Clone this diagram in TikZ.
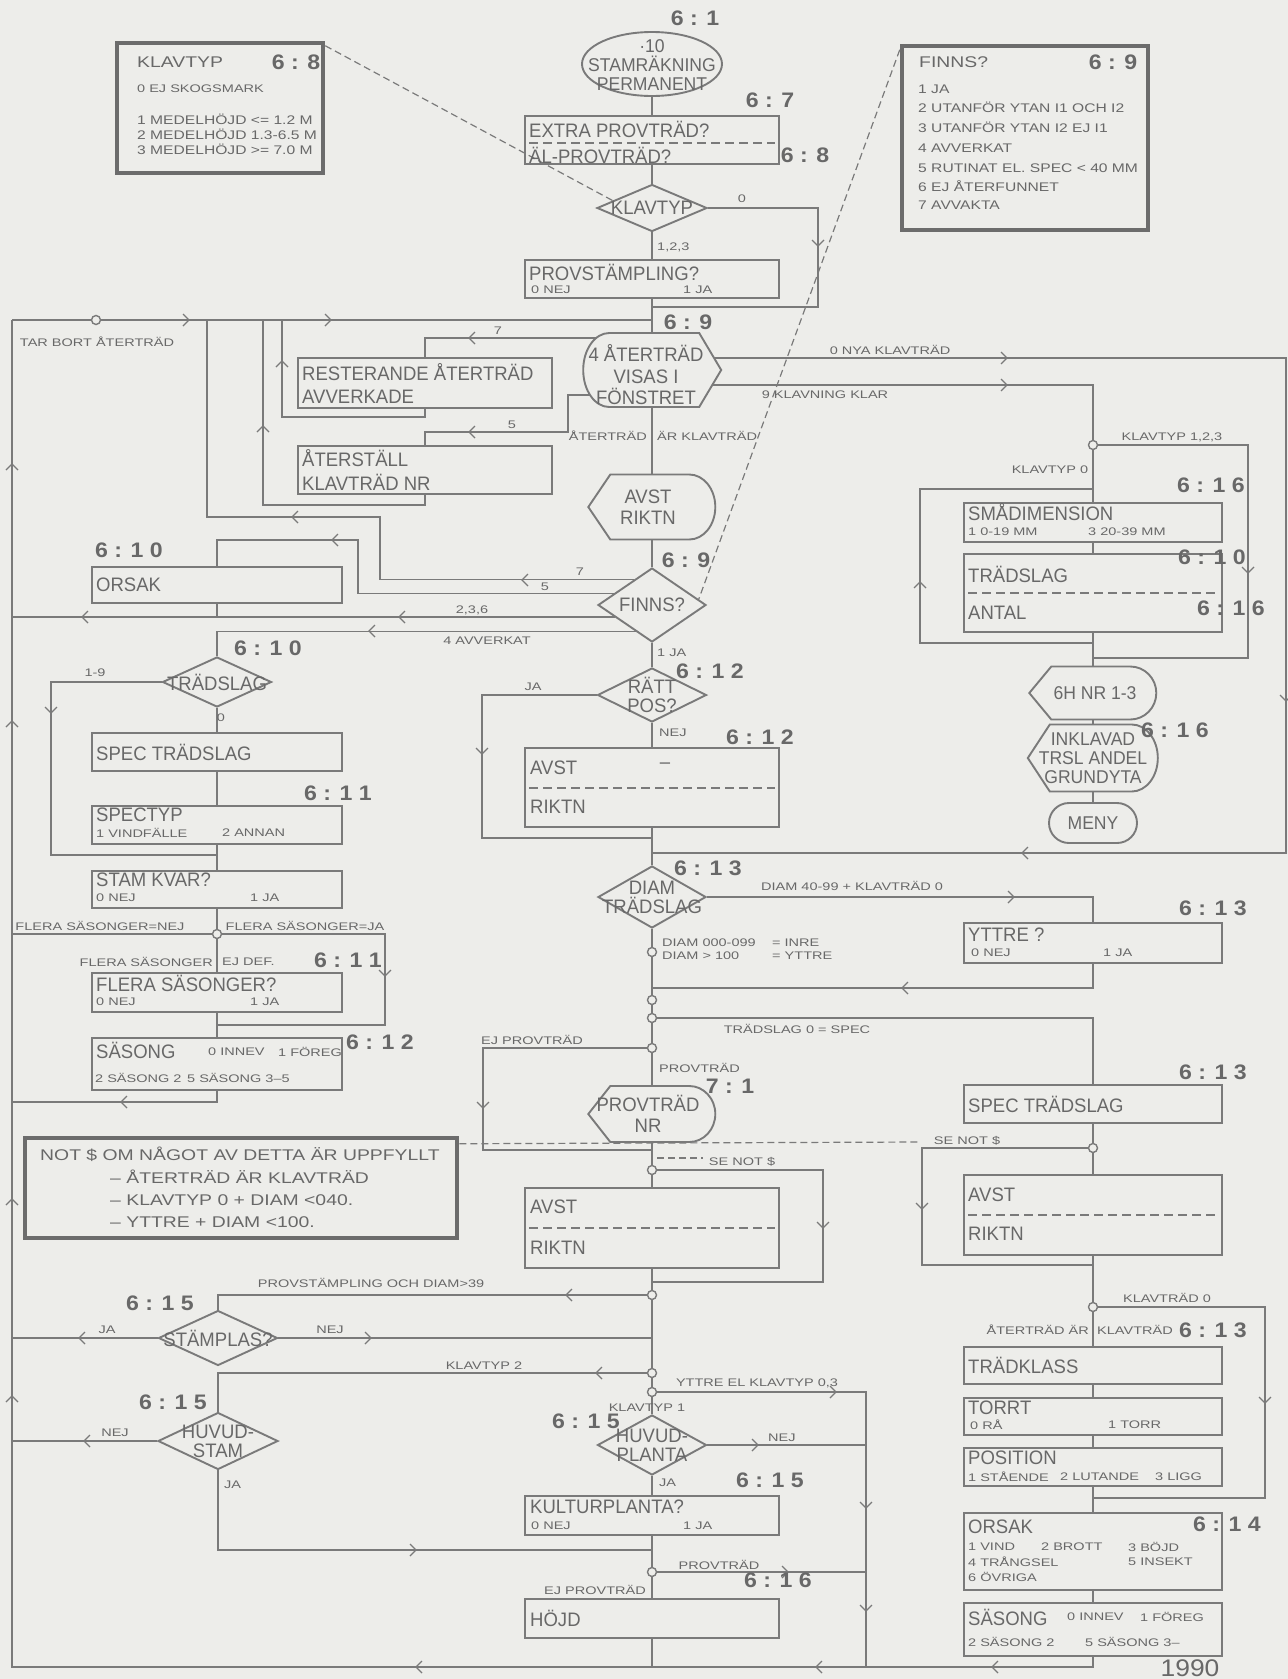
\documentclass[tikz,border=0pt]{standalone}
\usepackage{fontspec}
\setmainfont{Liberation Sans}
\newfontfamily\fLg{Liberation Sans}[FakeStretch=0.95]
\newfontfamily\fSm{Liberation Sans}[FakeStretch=1.32]
\newfontfamily\fMd{Liberation Sans}[FakeStretch=1.25]
\newfontfamily\fNb{Liberation Sans}[FakeStretch=1.1]
\usetikzlibrary{shapes.geometric,calc}
\definecolor{bgc}{RGB}{237,237,234}
\definecolor{lnc}{RGB}{122,122,122}
\definecolor{txc}{RGB}{104,104,104}
\definecolor{thc}{RGB}{108,108,108}
\newcounter{tcnt}
\newcommand\lbl[4][]{\stepcounter{tcnt}\node[#1] (t\arabic{tcnt}) at (#2,#3) {#4};}
\newcommand\boxc[6][bx]{\node[#1, minimum width={(#5-#3)*1pt}, minimum height={(#6-#4)*1pt}] (#2) at ({(#3+#5)/2},{(#4+#6)/2}) {};}
\newcommand\dispL[5]{\node[ghost, minimum width=#4pt, minimum height=#5pt] (#1) at (#2,#3) {};
 \draw[shp] (#1.west) -- ++(22,{-#5/2}) -- ++({#4-48},0) arc[start angle=90, end angle=-90, x radius=26pt, y radius={#5/2*1pt}] -- ++({48-#4},0) -- cycle;}
\newcommand\dispR[5]{\node[ghost, minimum width=#4pt, minimum height=#5pt] (#1) at (#2,#3) {};
 \draw[shp] (#1.east) -- ++(-22,{-#5/2}) -- ++({48-#4},0) arc[start angle=90, end angle=270, x radius=26pt, y radius={#5/2*1pt}] -- ++({#4-48},0) -- cycle;}
\newcommand\chv[3]{\pic[rotate=#3] at (#1,#2) {chev};}
\tikzset{
 wire/.style={draw=lnc, line width=1.6pt},
 bx/.style={rectangle, draw=lnc, line width=1.9pt, inner sep=0pt},
 infobx/.style={rectangle, draw=thc, line width=4.5pt, inner sep=0pt},
 ghost/.style={rectangle, inner sep=0pt},
 shp/.style={draw=lnc, line width=1.9pt},
 dia/.style={diamond, draw=lnc, line width=1.9pt, inner sep=0pt},
 ell/.style={ellipse, draw=lnc, line width=1.9pt, inner sep=0pt},
 rnd/.style={rectangle, rounded corners=20pt, draw=lnc, line width=1.9pt, inner sep=0pt},
 jc/.style={circle, draw=lnc, fill=bgc, line width=1.4pt, minimum size=9pt, inner sep=0pt},
 divd/.style={draw=lnc, line width=1.4pt, dash pattern=on 9pt off 5pt},
 ldash/.style={draw=lnc, line width=1.2pt, dash pattern=on 7pt off 4pt},
 tL/.style={font=\fLg\fontsize{19.5}{21.5}\selectfont, text=txc, inner sep=0pt},
 tD/.style={font=\fLg\fontsize{19.5}{19}\selectfont, text=txc, inner sep=0pt},
 tE/.style={font=\fLg\fontsize{18.5}{19}\selectfont, text=txc, inner sep=0pt},
 tS/.style={font=\fSm\fontsize{11}{12}\selectfont, text=txc, inner sep=0pt},
 tM/.style={font=\fMd\fontsize{12.5}{14}\selectfont, text=txc, inner sep=0pt},
 tM15/.style={font=\fMd\fontsize{15.5}{17}\selectfont, text=txc, inner sep=0pt},
 tN/.style={font=\fNb\bfseries\fontsize{21}{23}\selectfont, text=txc, inner sep=0pt},
 chev/.pic={\draw[draw=lnc, line width=1.3pt] (-5,-6) -- (1,0) -- (-5,6);}
}
\begin{document}
\begin{tikzpicture}[x=1pt,y=-1pt]
\fill[bgc] (0,0) rectangle (1288,1679);
\useasboundingbox (0,0) rectangle (1288,1679);
% ---------- info boxes
\boxc[infobx]{kinfo}{117}{43}{323}{173}
\boxc[infobx]{finf}{902}{46}{1148}{230}
\boxc[infobx]{notb}{25}{1138}{457}{1238}
% ---------- main column
\node[ell, minimum width=140pt, minimum height=64pt] (start) at (652,64) {};
\boxc{extra}{525}{116}{779}{164}
\node[dia, minimum width=110pt, minimum height=47pt] (kdia) at (652,208) {};
\boxc{provst}{525}{260}{779}{298}
\dispR{hex}{652}{370}{138}{74}
\boxc{rest}{298}{358}{552}{408}
\boxc{aterst}{298}{446}{552}{494}
\dispL{avst1}{652}{507}{127}{65}
\node[dia, minimum width=108pt, minimum height=74pt] (finns) at (652,605) {};
\node[dia, minimum width=109pt, minimum height=54pt] (rpos) at (652,695) {};
\boxc{avst2}{525}{748}{779}{827}
\node[dia, minimum width=108pt, minimum height=62pt] (ddia) at (652,897) {};
\dispL{provnr}{652}{1114}{127}{56}
\boxc{avst3}{525}{1188}{779}{1268}
\node[dia, minimum width=119pt, minimum height=55pt] (stam) at (218,1338) {};
\node[dia, minimum width=120pt, minimum height=57pt] (huvs) at (218,1441) {};
\node[dia, minimum width=109pt, minimum height=60pt] (huvp) at (652,1445) {};
\boxc{kultur}{525}{1496}{779}{1535}
\boxc{hojd}{525}{1599}{779}{1638}
% ---------- left column
\boxc{orsak1}{92}{567}{342}{603}
\node[dia, minimum width=109pt, minimum height=50pt] (tdia) at (217,682) {};
\boxc{spec1}{92}{733}{342}{771}
\boxc{spectyp}{92}{806}{342}{844}
\boxc{stamkv}{92}{871}{342}{908}
\boxc{flera}{92}{973}{342}{1012}
\boxc{sas1}{92}{1038}{342}{1090}
% ---------- right column
\boxc{smadim}{964}{503}{1222}{542}
\boxc{tradsl}{964}{554}{1222}{632}
\dispL{d6h}{1093}{693}{127}{53}
\dispL{inklav}{1093}{758}{130}{67}
\node[rnd, minimum width=88pt, minimum height=40pt] (meny) at (1093,823) {};
\boxc{yttre}{964}{923}{1222}{963}
\boxc{spec2}{964}{1085}{1222}{1123}
\boxc{avst4}{964}{1175}{1222}{1255}
\boxc{tklass}{964}{1347}{1222}{1384}
\boxc{torrt}{964}{1398}{1222}{1435}
\boxc{posit}{964}{1448}{1222}{1486}
\boxc{orsak2}{964}{1513}{1222}{1590}
\boxc{sas2}{964}{1603}{1222}{1656}
% ---------- dividers
\draw[divd] (529,143) -- (775,143);
\draw[divd] (529,788) -- (775,788);
\draw[divd] (529,1228) -- (775,1228);
\draw[divd] (968,593) -- (1218,593);
\draw[divd] (968,1215) -- (1218,1215);
% ---------- coordinates
\coordinate (lbx) at (12,0);
\coordinate (lt) at (12,320);
\coordinate (j320) at (652,320);
\coordinate (k0a) at (818,208);
\coordinate (k0b) at (818,307);
\coordinate (j307) at (652,307);
\coordinate (h7) at (596,338);
\coordinate (r7a) at (425,338);
\coordinate (r7b) at (425,417);
\coordinate (r7c) at (282,417);
\coordinate (r7d) at (282,320);
\coordinate (h5) at (590,395);
\coordinate (r5a) at (568,395);
\coordinate (r5b) at (568,432);
\coordinate (r5c) at (425,432);
\coordinate (r5d) at (425,505);
\coordinate (r5e) at (263,505);
\coordinate (r5f) at (263,320);
\coordinate (h0) at (714,358);
\coordinate (re1) at (1286,358);
\coordinate (re2) at (1286,853);
\coordinate (j853) at (652,853);
\coordinate (h9) at (712,385);
\coordinate (pK) at (1093,445);
\coordinate (f7) at ($(finns.north)!0.33!(finns.west)$);
\coordinate (f5) at ($(finns.north)!0.7!(finns.west)$);
\coordinate (f2) at ($(finns.west)!0.32!(finns.south)$);
\coordinate (f4) at ($(finns.west)!0.7!(finns.south)$);
\coordinate (b7) at (380,517);
\coordinate (c7) at (207,517);
\coordinate (d7) at (207,320);
\coordinate (b5) at (358,540);
\coordinate (ja1) at (482,695);
\coordinate (ja2) at (482,838);
\coordinate (j838) at (652,838);
\coordinate (j988) at (652,988);
\coordinate (p952) at (652,952);
\coordinate (p1000) at (652,1000);
\coordinate (p1018) at (652,1018);
\coordinate (p1048) at (652,1048);
\coordinate (e1) at (483,1048);
\coordinate (e2) at (483,1150);
\coordinate (j1150) at (652,1150);
\coordinate (p1170) at (652,1170);
\coordinate (s1) at (823,1170);
\coordinate (s2) at (823,1282);
\coordinate (j1282) at (652,1282);
\coordinate (p1295) at (652,1295);
\coordinate (p1373) at (652,1373);
\coordinate (p1392) at (652,1392);
\coordinate (j1550) at (652,1550);
\coordinate (p1572) at (652,1572);
\coordinate (y1) at (866,1392);
\coordinate (y2) at (866,1667);
\coordinate (bM) at (652,1667);
\coordinate (bR) at (1093,1667);
\coordinate (bL) at (12,1667);
\coordinate (q1) at (51,682);
\coordinate (q2) at (51,855);
\coordinate (j855) at (217,855);
\coordinate (p934) at (217,934);
\coordinate (w1) at (385,934);
\coordinate (w2) at (385,1025);
\coordinate (j1025) at (217,1025);
\coordinate (v1) at (217,1102);
\coordinate (a123) at (1248,445);
\coordinate (b123) at (1248,658);
\coordinate (j658) at (1093,658);
\coordinate (lp1) at (1093,643);
\coordinate (lp2) at (920,643);
\coordinate (lp3) at (920,489);
\coordinate (lp4) at (1093,489);
\coordinate (p1148) at (1093,1148);
\coordinate (g1) at (922,1148);
\coordinate (g2) at (922,1265);
\coordinate (j1265) at (1093,1265);
\coordinate (p1307) at (1093,1307);
\coordinate (k1) at (1265,1307);
\coordinate (k2) at (1265,1498);
\coordinate (j1498) at (1093,1498);
\coordinate (sn1) at (918,1142);
\coordinate (sn2a) at (657,1158);
\coordinate (sn2b) at (703,1158);
% ---------- wires
\draw[wire] (start) -- (extra);
\draw[wire] (extra) -- (kdia);
\draw[wire] (kdia) -- (provst);
\draw[wire] (provst) -- (hex);
\draw[wire] (kdia.east) -- (k0a) -- (k0b) -- (j307);
\draw[wire] (lt) -- (j320);
\draw[wire] (h7) -- (r7a) -- (rest);
\draw[wire] (rest) -- (r7b) -- (r7c) -- (r7d);
\draw[wire] (h5) -- (r5a) -- (r5b) -- (r5c) -- (aterst);
\draw[wire] (aterst) -- (r5d) -- (r5e) -- (r5f);
\draw[wire] (h0) -- (re1) -- (re2) -- (j853);
\draw[wire] (h9) -| (pK);
\draw[wire] (hex) -- (avst1);
\draw[wire] (avst1) -- (finns);
\draw[wire] (f7) -| (b7) -- (c7) -- (d7);
\draw[wire] (f5) -| (b5) -| (orsak1);
\draw[wire] (orsak1) -- (orsak1 |- f2);
\draw[wire] (f2) -- (f2 -| lbx);
\draw[wire] (f4) -| (tdia);
\draw[wire] (finns) -- (rpos);
\draw[wire] (rpos.west) -- (ja1) -- (ja2) -- (j838);
\draw[wire] (rpos) -- (avst2);
\draw[wire] (avst2) -- (ddia);
\draw[wire] (ddia.east) -| (yttre);
\draw[wire] (yttre) |- (j988);
\draw[wire] (ddia) -- (provnr);
\draw[wire] (p1018) -| (spec2);
\draw[wire] (p1048) -- (e1) -- (e2) -- (j1150);
\draw[wire] (provnr) -- (avst3);
\draw[wire] (p1170) -- (s1) -- (s2) -- (j1282);
\draw[wire] (avst3) -- (huvp);
\draw[wire] (p1295) -| (stam);
\draw[wire] (stam.west) -- (stam.west -| lbx);
\draw[wire] (stam.east) -- (stam.east -| p1295);
\draw[wire] (p1373) -| (huvs);
\draw[wire] (huvs.west) -- (huvs.west -| lbx);
\draw[wire] (huvs) |- (j1550);
\draw[wire] (p1392) -- (y1) -- (y2);
\draw[wire] (huvp.east) -- (huvp.east -| y1);
\draw[wire] (huvp) -- (kultur);
\draw[wire] (kultur) -- (hojd);
\draw[wire] (p1572) -- (p1572 -| y1);
\draw[wire] (hojd) -- (bM);
\draw[wire] (sas2) -- (bR) -- (bL) -- (lt);
\draw[wire] (tdia) -- (spec1);
\draw[wire] (spec1) -- (spectyp);
\draw[wire] (spectyp) -- (stamkv);
\draw[wire] (stamkv) -- (flera);
\draw[wire] (flera) -- (sas1);
\draw[wire] (tdia.west) -- (q1) -- (q2) -- (j855);
\draw[wire] (p934) -- (p934 -| lbx);
\draw[wire] (p934) -- (w1) -- (w2) -- (j1025);
\draw[wire] (sas1) -- (v1) -- (v1 -| lbx);
\draw[wire] (pK) -- (a123) -- (b123) -- (j658);
\draw[wire] (pK) -- (smadim);
\draw[wire] (smadim) -- (tradsl);
\draw[wire] (tradsl) -- (d6h);
\draw[wire] (lp1) -- (lp2) -- (lp3) -- (lp4);
\draw[wire] (d6h) -- (inklav);
\draw[wire] (inklav) -- (meny);
\draw[wire] (spec2) -- (avst4);
\draw[wire] (p1148) -- (g1) -- (g2) -- (j1265);
\draw[wire] (avst4) -- (tklass);
\draw[wire] (tklass) -- (torrt);
\draw[wire] (torrt) -- (posit);
\draw[wire] (posit) -- (orsak2);
\draw[wire] (orsak2) -- (sas2);
\draw[wire] (p1307) -- (k1) -- (k2) -- (j1498);
% ---------- dashed leaders
\draw[ldash] ($(kinfo.north east)+(0,5)$) -- ($(kdia.north)!0.7!(kdia.west)$);
\draw[ldash] ($(finf.north west)+(0,6)$) -- ($(finns.north)!0.85!(finns.east)$);
\draw[ldash] ($(notb.north east)+(0,8)$) -- (sn1);
\draw[ldash] (sn2a) -- (sn2b);
% ---------- junction circles
\node[jc] (cTar) at (96,320) {};
\node[jc] (cK) at (pK) {};
\node[jc] (c952) at (p952) {};
\node[jc] (c1000) at (p1000) {};
\node[jc] (c1018) at (p1018) {};
\node[jc] (c1048) at (p1048) {};
\node[jc] (c1170) at (p1170) {};
\node[jc] (c1295) at (p1295) {};
\node[jc] (c1373) at (p1373) {};
\node[jc] (c1392) at (p1392) {};
\node[jc] (c1572) at (p1572) {};
\node[jc] (c934) at (p934) {};
\node[jc] (c1148) at (p1148) {};
\node[jc] (c1307) at (p1307) {};
% ---------- chevrons
\chv{188}{320}{0} \chv{330}{320}{0}
\chv{818}{245}{-90}
\chv{470}{338}{180} \chv{282}{362}{90}
\chv{470}{432}{180} \chv{263}{427}{90}
\chv{1006}{358}{0} \chv{1006}{385}{0}
\chv{1286}{700}{-90} \chv{1023}{853}{180}
\chv{523}{580}{180} \chv{293}{517}{180} \chv{333}{540}{180}
\chv{400}{617}{180} \chv{83}{617}{180} \chv{370}{631}{180}
\chv{482}{753}{-90}
\chv{1013}{897}{0} \chv{903}{988}{180}
\chv{483}{1107}{-90} \chv{823}{1227}{-90}
\chv{567}{1295}{180} \chv{80}{1338}{180} \chv{370}{1338}{0}
\chv{597}{1373}{180} \chv{85}{1441}{180} \chv{415}{1550}{0}
\chv{835}{1392}{0} \chv{866}{1507}{-90} \chv{866}{1610}{-90}
\chv{757}{1445}{0} \chv{787}{1572}{0}
\chv{993}{1667}{180} \chv{817}{1667}{180} \chv{417}{1667}{180}
\chv{12}{465}{90} \chv{12}{722}{90} \chv{12}{1200}{90} \chv{12}{1397}{90}
\chv{51}{712}{-90} \chv{385}{975}{-90} \chv{122}{1102}{180}
\chv{1248}{572}{-90} \chv{920}{583}{90}
\chv{922}{1208}{-90} \chv{1265}{1402}{-90}
% ---------- texts: info boxes
\lbl[tM15,anchor=west]{137}{62}{KLAVTYP}
\lbl[tN]{296}{62}{6 : 8}
\lbl[tS,anchor=west]{137}{89}{0 EJ SKOGSMARK}
\lbl[tM,anchor=west]{137}{119}{1 MEDELHÖJD <= 1.2 M}
\lbl[tM,anchor=west]{137}{134}{2 MEDELHÖJD 1.3-6.5 M}
\lbl[tM,anchor=west]{137}{149}{3 MEDELHÖJD >= 7.0 M}
\lbl[tM15,anchor=west]{919}{62}{FINNS?}
\lbl[tN]{1113}{62}{6 : 9}
\lbl[tM,anchor=west]{918}{89}{1 JA}
\lbl[tM,anchor=west]{918}{107}{2 UTANFÖR YTAN I1 OCH I2}
\lbl[tM,anchor=west]{918}{127}{3 UTANFÖR YTAN I2 EJ I1}
\lbl[tM,anchor=west]{918}{148}{4 AVVERKAT}
\lbl[tM,anchor=west]{918}{168}{5 RUTINAT EL. SPEC < 40 MM}
\lbl[tM,anchor=west]{918}{186}{6 EJ ÅTERFUNNET}
\lbl[tM,anchor=west]{918}{205}{7 AVVAKTA}
\lbl[tM15,anchor=west]{40}{1154}{NOT \$ OM NÅGOT AV DETTA ÄR UPPFYLLT}
\lbl[tM15,anchor=west]{110}{1177}{– ÅTERTRÄD ÄR KLAVTRÄD}
\lbl[tM15,anchor=west]{110}{1200}{– KLAVTYP 0 + DIAM <040.}
\lbl[tM15,anchor=west]{110}{1222}{– YTTRE + DIAM <100.}
% ---------- texts: main column
\lbl[tN]{695}{18}{6 : 1}
\lbl[tE,align=center]{652}{65}{·10\\STAMRÄKNING\\PERMANENT}
\lbl[tN]{770}{100}{6 : 7}
\lbl[tL,anchor=west]{529}{129}{EXTRA PROVTRÄD?}
\lbl[tL,anchor=west]{529}{155}{ÄL-PROVTRÄD?}
\lbl[tN]{805}{155}{6 : 8}
\lbl[tD]{652}{208}{KLAVTYP}
\lbl[tS]{742}{199}{0}
\lbl[tS,anchor=west]{657}{247}{1,2,3}
\lbl[tL,anchor=west]{529}{272}{PROVSTÄMPLING?}
\lbl[tS,anchor=west]{531}{290}{0 NEJ}
\lbl[tS,anchor=west]{683}{290}{1 JA}
\lbl[tN]{688}{322}{6 : 9}
\lbl[tS]{97}{342}{TAR BORT ÅTERTRÄD}
\lbl[tL,align=center]{646}{375}{4 ÅTERTRÄD\\VISAS I\\FÖNSTRET}
\lbl[tS]{498}{331}{7}
\lbl[tL,anchor=west]{302}{372}{RESTERANDE ÅTERTRÄD}
\lbl[tL,anchor=west]{302}{397}{AVVERKADE}
\lbl[tS]{512}{425}{5}
\lbl[tL,anchor=west]{302}{458}{ÅTERSTÄLL}
\lbl[tL,anchor=west]{302}{482}{KLAVTRÄD NR}
\lbl[tS]{890}{350}{0 NYA KLAVTRÄD}
\lbl[tS]{825}{395}{9 KLAVNING KLAR}
\lbl[tS,anchor=east]{647}{436}{ÅTERTRÄD}
\lbl[tS,anchor=west]{657}{436}{ÄR KLAVTRÄD}
\lbl[tL,align=center]{648}{507}{AVST\\RIKTN}
\lbl[tN]{686}{560}{6 : 9}
\lbl[tD]{652}{605}{FINNS?}
\lbl[tS]{580}{572}{7}
\lbl[tS]{545}{587}{5}
\lbl[tS]{472}{610}{2,3,6}
\lbl[tS]{487}{641}{4 AVVERKAT}
\lbl[tS,anchor=west]{657}{653}{1 JA}
\lbl[tN]{710}{671}{6 : 1 2}
\lbl[tD,align=center]{652}{695}{RÄTT\\POS?}
\lbl[tS]{533}{687}{JA}
\lbl[tS,anchor=west]{659}{733}{NEJ}
\lbl[tN]{760}{737}{6 : 1 2}
\lbl[tL,anchor=west]{530}{768}{AVST}
\lbl[tL]{665}{766}{–}
\lbl[tL,anchor=west]{530}{807}{RIKTN}
\lbl[tN]{708}{868}{6 : 1 3}
\lbl[tD,align=center]{652}{897}{DIAM\\TRÄDSLAG}
\lbl[tS]{852}{886}{DIAM 40-99 + KLAVTRÄD 0}
\lbl[tS,anchor=west]{662}{943}{DIAM 000-099}
\lbl[tS,anchor=west]{772}{943}{= INRE}
\lbl[tS,anchor=west]{662}{956}{DIAM > 100}
\lbl[tS,anchor=west]{772}{956}{= YTTRE}
\lbl[tS]{797}{1029}{TRÄDSLAG 0 = SPEC}
\lbl[tS]{532}{1040}{EJ PROVTRÄD}
\lbl[tS,anchor=west]{659}{1068}{PROVTRÄD}
\lbl[tN]{730}{1086}{7 : 1}
\lbl[tL,align=center]{648}{1114}{PROVTRÄD\\NR}
\lbl[tS]{742}{1162}{SE NOT \$}
\lbl[tL,anchor=west]{530}{1207}{AVST}
\lbl[tL,anchor=west]{530}{1248}{RIKTN}
\lbl[tS]{371}{1283}{PROVSTÄMPLING OCH DIAM>39}
\lbl[tN]{160}{1303}{6 : 1 5}
\lbl[tD]{218}{1338}{STÄMPLAS?}
\lbl[tS]{107}{1330}{JA}
\lbl[tS]{330}{1330}{NEJ}
\lbl[tS]{484}{1366}{KLAVTYP 2}
\lbl[tN]{173}{1402}{6 : 1 5}
\lbl[tD,align=center]{218}{1441}{HUVUD-\\STAM}
\lbl[tS]{115}{1433}{NEJ}
\lbl[tS,anchor=west]{224}{1485}{JA}
\lbl[tS]{757}{1383}{YTTRE EL KLAVTYP 0,3}
\lbl[tS]{647}{1408}{KLAVTYP 1}
\lbl[tN]{586}{1421}{6 : 1 5}
\lbl[tD,align=center]{652}{1445}{HUVUD-\\PLANTA}
\lbl[tS,anchor=west]{768}{1438}{NEJ}
\lbl[tS,anchor=west]{659}{1483}{JA}
\lbl[tN]{770}{1480}{6 : 1 5}
\lbl[tL,anchor=west]{530}{1507}{KULTURPLANTA?}
\lbl[tS,anchor=west]{531}{1526}{0 NEJ}
\lbl[tS,anchor=west]{683}{1526}{1 JA}
\lbl[tS]{719}{1565}{PROVTRÄD}
\lbl[tS]{595}{1590}{EJ PROVTRÄD}
\lbl[tN]{778}{1580}{6 : 1 6}
\lbl[tL,anchor=west]{530}{1618}{HÖJD}
% ---------- texts: left column
\lbl[tN]{129}{550}{6 : 1 0}
\lbl[tL,anchor=west]{96}{585}{ORSAK}
\lbl[tN]{268}{648}{6 : 1 0}
\lbl[tD]{217}{682}{TRÄDSLAG}
\lbl[tS]{95}{673}{1-9}
\lbl[tS]{221}{718}{0}
\lbl[tL,anchor=west]{96}{752}{SPEC TRÄDSLAG}
\lbl[tN]{338}{793}{6 : 1 1}
\lbl[tL,anchor=west]{96}{815}{SPECTYP}
\lbl[tS,anchor=west]{96}{833}{1 VINDFÄLLE}
\lbl[tS,anchor=west]{222}{833}{2 ANNAN}
\lbl[tL,anchor=west]{96}{880}{STAM KVAR?}
\lbl[tS,anchor=west]{96}{898}{0 NEJ}
\lbl[tS,anchor=west]{250}{898}{1 JA}
\lbl[tS]{100}{926}{FLERA SÄSONGER=NEJ}
\lbl[tS]{305}{926}{FLERA SÄSONGER=JA}
\lbl[tS,anchor=east]{213}{962}{FLERA SÄSONGER}
\lbl[tS,anchor=west]{222}{962}{EJ DEF.}
\lbl[tN]{348}{960}{6 : 1 1}
\lbl[tL,anchor=west]{96}{983}{FLERA SÄSONGER?}
\lbl[tS,anchor=west]{96}{1002}{0 NEJ}
\lbl[tS,anchor=west]{250}{1002}{1 JA}
\lbl[tL,anchor=west]{96}{1050}{SÄSONG}
\lbl[tS,anchor=west]{208}{1052}{0 INNEV}
\lbl[tS,anchor=west]{278}{1052}{1 FÖREG}
\lbl[tS,anchor=west]{95}{1078}{2 SÄSONG 2}
\lbl[tS,anchor=west]{187}{1078}{5 SÄSONG 3–5}
\lbl[tN]{380}{1042}{6 : 1 2}
% ---------- texts: right column
\lbl[tS]{1172}{437}{KLAVTYP 1,2,3}
\lbl[tS]{1050}{470}{KLAVTYP 0}
\lbl[tN]{1211}{485}{6 : 1 6}
\lbl[tL,anchor=west]{968}{512}{SMÅDIMENSION}
\lbl[tS,anchor=west]{968}{532}{1 0-19 MM}
\lbl[tS,anchor=west]{1088}{532}{3 20-39 MM}
\lbl[tL,anchor=west]{968}{574}{TRÄDSLAG}
\lbl[tL,anchor=west]{968}{613}{ANTAL}
\lbl[tN]{1212}{557}{6 : 1 0}
\lbl[tN]{1231}{608}{6 : 1 6}
\lbl[tE]{1095}{693}{6H NR 1-3}
\lbl[tE,align=center]{1093}{758}{INKLAVAD\\TRSL ANDEL\\GRUNDYTA}
\lbl[tN]{1175}{730}{6 : 1 6}
\lbl[tE]{1093}{823}{MENY}
\lbl[tN]{1213}{908}{6 : 1 3}
\lbl[tL,anchor=west]{968}{935}{YTTRE ?}
\lbl[tS,anchor=west]{971}{953}{0 NEJ}
\lbl[tS,anchor=west]{1103}{953}{1 JA}
\lbl[tN]{1213}{1072}{6 : 1 3}
\lbl[tL,anchor=west]{968}{1104}{SPEC TRÄDSLAG}
\lbl[tS]{967}{1141}{SE NOT \$}
\lbl[tL,anchor=west]{968}{1195}{AVST}
\lbl[tL,anchor=west]{968}{1234}{RIKTN}
\lbl[tS]{1167}{1298}{KLAVTRÄD 0}
\lbl[tS,anchor=east]{1089}{1330}{ÅTERTRÄD ÄR}
\lbl[tS,anchor=west]{1097}{1330}{KLAVTRÄD}
\lbl[tN]{1213}{1330}{6 : 1 3}
\lbl[tL,anchor=west]{968}{1365}{TRÄDKLASS}
\lbl[tL,anchor=west]{968}{1408}{TORRT}
\lbl[tS,anchor=west]{970}{1425}{0 RÅ}
\lbl[tS,anchor=west]{1108}{1425}{1 TORR}
\lbl[tL,anchor=west]{968}{1458}{POSITION}
\lbl[tS,anchor=west]{968}{1477}{1 STÅENDE}
\lbl[tS,anchor=west]{1060}{1477}{2 LUTANDE}
\lbl[tS,anchor=west]{1155}{1477}{3 LIGG}
\lbl[tL,anchor=west]{968}{1527}{ORSAK}
\lbl[tN]{1227}{1524}{6 : 1 4}
\lbl[tS,anchor=west]{968}{1547}{1 VIND}
\lbl[tS,anchor=west]{1041}{1547}{2 BROTT}
\lbl[tS,anchor=west]{1128}{1547}{3 BÖJD}
\lbl[tS,anchor=west]{968}{1562}{4 TRÅNGSEL}
\lbl[tS,anchor=west]{1128}{1562}{5 INSEKT}
\lbl[tS,anchor=west]{968}{1577}{6 ÖVRIGA}
\lbl[tL,anchor=west]{968}{1617}{SÄSONG}
\lbl[tS,anchor=west]{1067}{1617}{0 INNEV}
\lbl[tS,anchor=west]{1140}{1617}{1 FÖREG}
\lbl[tS,anchor=west]{968}{1642}{2 SÄSONG 2}
\lbl[tS,anchor=west]{1085}{1642}{5 SÄSONG 3–}
\lbl[font=\fNb\fontsize{24}{26}\selectfont,text=txc,inner sep=0pt]{1190}{1668}{1990}
\end{tikzpicture}
\end{document}
